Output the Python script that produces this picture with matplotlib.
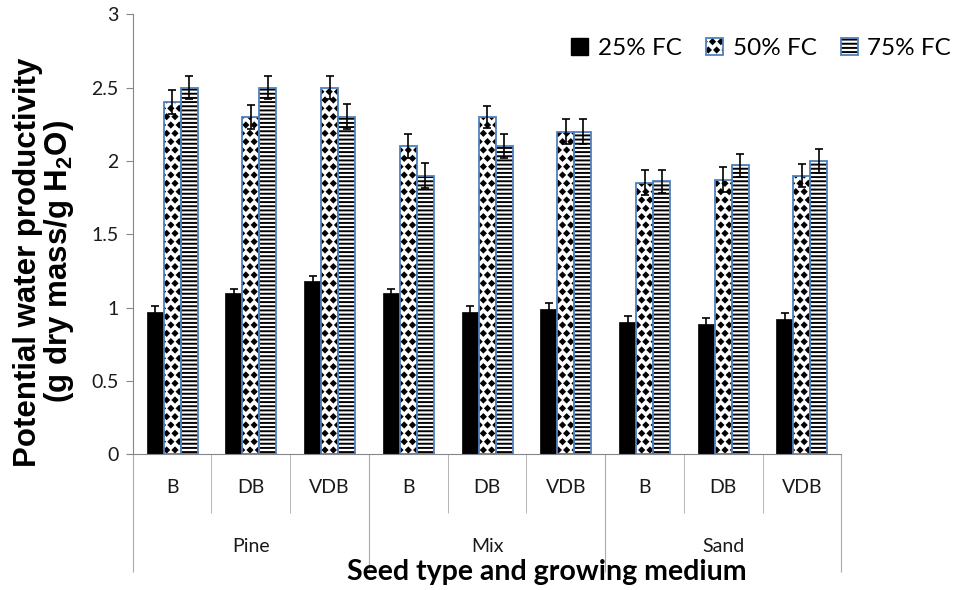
import numpy as np
import matplotlib
matplotlib.use("Agg")
import matplotlib.pyplot as plt
import matplotlib.hatch as mhatch
from matplotlib.path import Path
from matplotlib.patches import Patch
from matplotlib.legend_handler import HandlerTuple


# filled diamond hatch (replaces the small filled circles used by '.')
class FilledDiamonds(mhatch.Shapes):
    size = 0.27
    filled = True

    def __init__(self, hatch, density):
        self.num_rows = hatch.count('.') * density
        self.shape_vertices = np.array([[0, -1], [1, 0], [0, 1], [-1, 0], [0, -1]], float)
        self.shape_codes = np.array([Path.MOVETO, Path.LINETO, Path.LINETO,
                                     Path.LINETO, Path.CLOSEPOLY], dtype=Path.code_type)
        super().__init__(hatch, density)


mhatch._hatch_types = [FilledDiamonds if t is mhatch.SmallFilledCircles else t
                       for t in mhatch._hatch_types]

sub_labels = ["B", "DB", "VDB", "B", "DB", "VDB", "B", "DB", "VDB"]
groups = ["Pine", "Mix", "Sand"]
series = ["25% FC", "50% FC", "75% FC"]

fc25 = [0.97, 1.10, 1.18, 1.10, 0.97, 0.99, 0.90, 0.89, 0.92]
fc50 = [2.40, 2.30, 2.50, 2.10, 2.30, 2.20, 1.85, 1.87, 1.90]
fc75 = [2.50, 2.50, 2.30, 1.90, 2.10, 2.20, 1.86, 1.97, 2.00]
err25 = [0.04, 0.03, 0.035, 0.03, 0.04, 0.04, 0.04, 0.04, 0.04]
err50 = [0.08, 0.08, 0.08, 0.08, 0.075, 0.085, 0.085, 0.085, 0.08]
err75 = [0.08, 0.08, 0.085, 0.085, 0.08, 0.085, 0.077, 0.08, 0.08]

plt.rcParams['hatch.linewidth'] = 1.4
plt.rcParams['mathtext.default'] = 'regular'

blue = '#4F81BD'
grey = '#868686'
fig = plt.figure(figsize=(9.55, 5.9), dpi=100)
ax = fig.add_axes([0.139, 0.230, 0.742, 0.746])

x = np.arange(len(sub_labels))
w = 0.216
ekw = dict(ecolor='black', elinewidth=1.2, capsize=3.2, capthick=1.2)

ax.bar(x - w, fc25, w, color='black', edgecolor='black', linewidth=0.5,
       yerr=err25, error_kw=ekw, zorder=2)
ax.bar(x, fc50, w, color='white', edgecolor='black', linewidth=0, hatch='..', zorder=2)
ax.bar(x, fc50, w, fill=False, edgecolor=blue, linewidth=1.3,
       yerr=err50, error_kw=ekw, zorder=3)
ax.bar(x + w, fc75, w, color='white', edgecolor='black', linewidth=0, hatch='----', zorder=2)
ax.bar(x + w, fc75, w, fill=False, edgecolor=blue, linewidth=1.3,
       yerr=err75, error_kw=ekw, zorder=3)

ax.set_xlim(-0.5, 8.5)
ax.set_ylim(0, 3)
ax.set_yticks(np.arange(0, 3.01, 0.5))
ax.set_yticklabels(["0", "0.5", "1", "1.5", "2", "2.5", "3"])

for s in ["top", "right"]:
    ax.spines[s].set_visible(False)
ax.spines["left"].set_color(grey)
ax.spines["bottom"].set_color(grey)

tickfont = dict(family="Lato", size=14)
ax.tick_params(axis='y', direction='out', length=5, color=grey, labelcolor='#1a1a1a', pad=5)
for t in ax.get_yticklabels():
    t.set_fontfamily("Lato")
    t.set_fontsize(14)

# category separators as ticks
ax.set_xticks([-0.5, 2.5, 5.5, 8.5])
ax.set_xticks([0.5, 1.5, 3.5, 4.5, 6.5, 7.5], minor=True)
ax.tick_params(axis='x', which='major', direction='out', length=85, color='#aaaaaa',
               labelbottom=False)
ax.tick_params(axis='x', which='minor', direction='out', length=42.5, color='#aaaaaa',
               labelbottom=False)

trans = ax.get_xaxis_transform()
for xi, lab in zip(x, sub_labels):
    ax.text(xi, -0.076, lab, transform=trans, ha='center', va='center',
            color='#1a1a1a', **tickfont)
for gi, g in enumerate(groups):
    ax.text(gi * 3 + 1, -0.210, g, transform=trans, ha='center', va='center',
            color='#1a1a1a', **tickfont)

fig.text(0.573, 0.030, "Seed type and growing medium", ha='center', va='center',
         family="Lato", fontweight='bold', fontsize=20.5)
fig.text(0.029, 0.556, "Potential water productivity", rotation=90, ha='center',
         va='center', family="Liberation Sans", fontweight='bold', fontsize=22.5)
fig.text(0.062, 0.556, "(g dry mass/g H$_2$O)", rotation=90, ha='center',
         va='center', family="Liberation Sans", fontweight='bold', fontsize=22.5)

handles = [
    Patch(facecolor='black', edgecolor='black'),
    (Patch(facecolor='white', edgecolor='black', linewidth=0, hatch='..'),
     Patch(facecolor='none', edgecolor=blue, linewidth=1.3)),
    (Patch(facecolor='white', edgecolor='black', linewidth=0, hatch='----'),
     Patch(facecolor='none', edgecolor=blue, linewidth=1.3)),
]
leg = fig.legend(handles, series, loc='center right', bbox_to_anchor=(0.996, 0.918),
                 ncol=3, frameon=False, handler_map={tuple: HandlerTuple(ndivide=1)},
                 prop=dict(family="Lato", size=17.5), handlelength=0.7, handleheight=0.7,
                 handletextpad=0.4, columnspacing=1.0, borderpad=0, borderaxespad=0)

fig.savefig("out.png", dpi=100)
